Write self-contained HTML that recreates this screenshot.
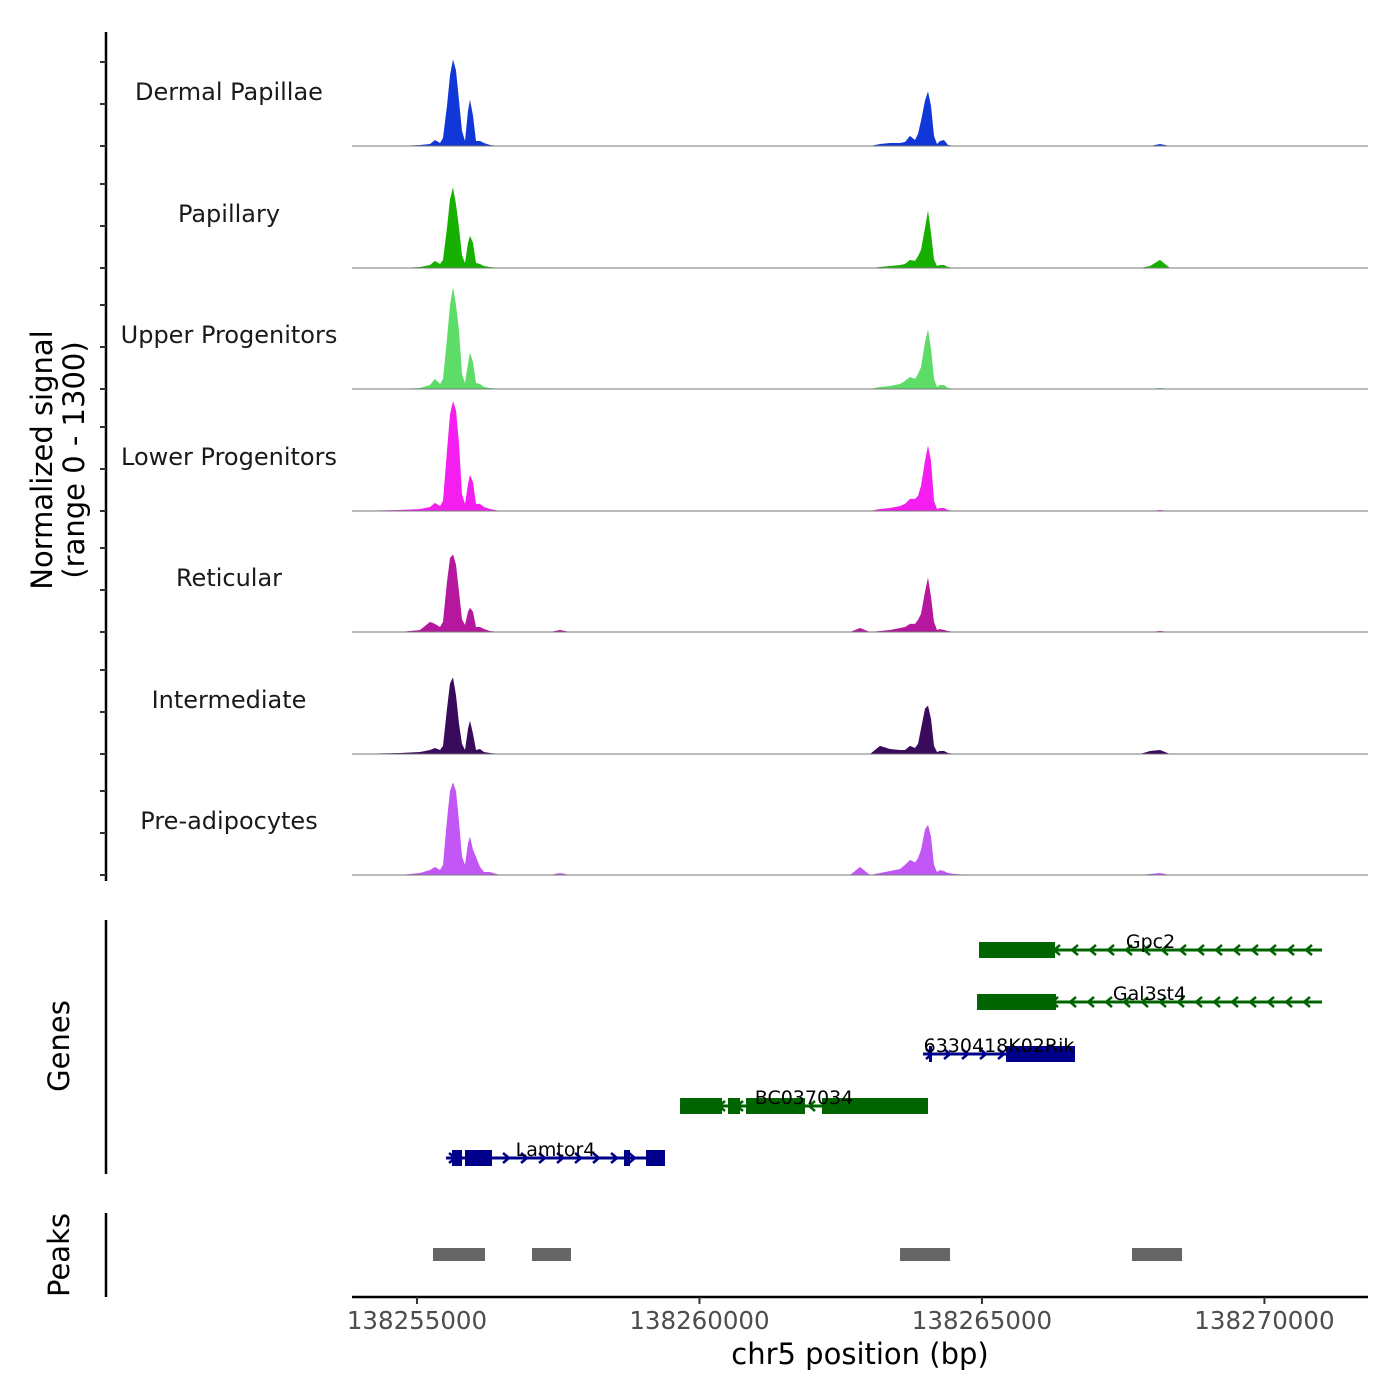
<!DOCTYPE html>
<html><head><meta charset="utf-8"><style>
html,body{margin:0;padding:0;background:#fff;}
svg{display:block;font-family:"DejaVu Sans","Liberation Sans",sans-serif;}
</style></head><body>
<svg id="chart" width="1400" height="1400" viewBox="0 0 1400 1400" xmlns="http://www.w3.org/2000/svg">
<rect width="1400" height="1400" fill="#fff"/>
<g id="tracks"></g>
<g id="genes"></g>
<g id="peaks"></g>
<g id="axes"></g>
<text transform="translate(52,460) rotate(-90)" text-anchor="middle" font-size="29" fill="#000">Normalized signal</text>
<text transform="translate(84,460) rotate(-90)" text-anchor="middle" font-size="29" fill="#000">(range 0 - 1300)</text>
<text transform="translate(69,1046) rotate(-90)" text-anchor="middle" font-size="29" fill="#000">Genes</text>
<text transform="translate(69,1255) rotate(-90)" text-anchor="middle" font-size="29" fill="#000">Peaks</text>
<text x="860" y="1364" text-anchor="middle" font-size="29" fill="#000">chr5 position (bp)</text>
</svg>
<script>
const trackNames = ["Dermal Papillae","Papillary","Upper Progenitors","Lower Progenitors","Reticular","Intermediate","Pre-adipocytes"];
const trackColors = ["#1237d8","#17b000","#5ddc68","#f51ef0","#b5179e","#3a0a5c","#c257f5"];
const positions = [138253850,138254700,138255054,138255231,138255319,138255408,138255461,138255532,138255585,138255638,138255691,138255744,138255797,138255850,138255903,138255939,138255992,138256045,138256116,138256186,138256293,138256470,138257355,138257532,138257709,138260010,138262665,138262842,138263019,138263196,138263373,138263550,138263638,138263727,138263815,138263868,138263921,138263992,138264045,138264098,138264151,138264205,138264258,138264328,138264399,138264523,138264789,138267798,138267975,138268152,138268329,138271833];
const sigDP   = [0,0,12,24,72,36,96,480,840,1030,900,540,180,60,420,552,360,60,60,36,12,0,0,0,0,0,0,0,0,24,36,36,48,120,72,144,300,540,650,480,120,24,60,72,12,0,0,0,0,24,0,0];
const sigPap  = [0,0,12,36,84,48,96,480,820,960,760,480,150,60,300,384,300,60,48,24,12,0,0,0,0,0,0,0,0,12,24,36,48,96,84,140,216,480,684,420,100,24,36,36,12,0,0,0,24,96,0,0];
const sigUP   = [0,0,12,48,120,60,120,600,1000,1212,1000,700,180,72,300,432,320,72,60,24,12,0,0,0,0,0,0,0,0,24,36,60,96,144,120,180,260,560,708,480,120,24,48,48,12,0,0,0,0,12,0,0];
const sigLP   = [0,12,24,48,96,60,120,720,1150,1308,1200,800,200,84,320,432,340,84,84,48,24,0,0,0,0,0,0,0,0,24,36,60,84,144,144,180,300,600,780,600,120,24,36,36,12,0,0,0,0,12,0,0];
const sigRet  = [0,0,24,120,96,60,120,600,880,924,800,480,150,84,240,288,240,60,60,36,12,0,0,24,0,0,0,48,0,12,24,48,60,96,96,144,216,480,648,420,120,24,36,24,12,0,0,0,0,12,0,0];
const sigInt  = [0,12,24,48,72,48,96,540,840,912,700,360,120,48,300,396,240,48,60,24,12,0,0,0,0,0,0,0,0,96,60,48,48,96,72,120,300,540,576,420,96,24,36,36,12,0,0,0,36,48,0,0];
const sigPre  = [0,0,24,60,96,60,120,660,1000,1104,1000,640,220,120,380,456,300,216,96,36,36,0,0,24,0,0,0,96,0,24,48,72,120,180,150,200,300,540,600,460,120,36,60,48,24,12,0,0,12,24,0,0];
const signals = [sigDP,sigPap,sigUP,sigLP,sigRet,sigInt,sigPre];
const xTicks = [138255000,138260000,138265000,138270000];
const yTicks = [0,500,1000];
const geneNames = ["Gpc2","Gal3st4","6330418K02Rik","BC037034","Lamtor4"];
const geneStarts = [138264948,138264913,138263957,138259656,138255514];
const geneEnds = [138271019,138271019,138266647,138264045,138259390];
const geneStrand = ["-","-","+","-","+"];
const geneExons = [
  [[138264948,138266293]],
  [[138264913,138266311]],
  [[138264063,138264116],[138265426,138266647]],
  [[138259656,138260399],[138260505,138260718],[138260824,138261868],[138262169,138264045]],
  [[138255620,138255797],[138255850,138256328],[138258664,138258771],[138259054,138259390]]
];
const peakStarts = [138255284,138257036,138263550,138267656];
const peakEnds = [138256204,138257726,138264435,138268541];

const NS="http://www.w3.org/2000/svg";
const X0=352,X1=1368,BP0=138253850,BP1=138271833;
function xs(bp){return X0+(bp-BP0)/(BP1-BP0)*(X1-X0);}
const baselines=[146,268,389,511,632,754,875];
function ys(v,b){return b - v*(84/1000);}
function mk(tag,attrs,parent){const e=document.createElementNS(NS,tag);for(const k in attrs)e.setAttribute(k,attrs[k]);parent.appendChild(e);return e;}

const tg=document.getElementById('tracks');
signals.forEach((s,i)=>{
  const b=baselines[i];
  const g=mk('g',{},tg);
  
  
  let d='M'+xs(positions[0])+','+b;
  positions.forEach((p,j)=>{d+=' L'+xs(p).toFixed(1)+','+ys(s[j],b).toFixed(1);});
  d+=' L'+xs(positions[positions.length-1])+','+b+' Z';
  const a=mk('path',{d:d,fill:trackColors[i]},g);
  
  
  const bl=mk('line',{x1:X0,x2:X1,y1:b,y2:b,stroke:'#777','stroke-width':1},g);
  
  
  const t=mk('text',{x:229,y:b-46,'text-anchor':'middle','font-size':24,fill:'#1a1a1a'},g);
  t.textContent=trackNames[i];
  
  
});

const ax=document.getElementById('axes');
let l=mk('line',{x1:106,x2:106,y1:32,y2:881,stroke:'#000','stroke-width':2.5},ax);


baselines.forEach(b=>{yTicks.forEach(v=>{
  const t=mk('line',{x1:100,x2:106,y1:ys(v,b),y2:ys(v,b),stroke:'#333','stroke-width':2},ax);
  
  
});});
l=mk('line',{x1:106,x2:106,y1:920,y2:1174,stroke:'#000','stroke-width':2.5},ax);


l=mk('line',{x1:106,x2:106,y1:1213,y2:1297,stroke:'#000','stroke-width':2.5},ax);


l=mk('line',{x1:X0,x2:X1,y1:1297,y2:1297,stroke:'#000','stroke-width':2.5},ax);


xTicks.forEach(v=>{
  const t=mk('line',{x1:xs(v),x2:xs(v),y1:1297,y2:1304,stroke:'#333','stroke-width':2},ax);
  
  
  const tx=mk('text',{x:xs(v),y:1329,'text-anchor':'middle','font-size':24.5,fill:'#4d4d4d'},ax);
  tx.textContent=v;
  
  
});

const gg=document.getElementById('genes');
const rowY=[950,1002,1054,1106,1158];
geneNames.forEach((n,i)=>{
  const y=rowY[i],c=geneStrand[i]=='+'?'#00008b':'#006400';
  const g=mk('g',{},gg);
  
  
  const x1=xs(geneStarts[i]),x2=xs(geneEnds[i]);
  mk('line',{x1:x1,x2:x2,y1:y,y2:y,stroke:c,'stroke-width':3},g);
  for(let x=x1+6;x<x2-4;x+=18){
    const d=geneStrand[i]=='+'?`M${x-3},${y-5} L${x+3},${y} L${x-3},${y+5}`:`M${x+3},${y-5} L${x-3},${y} L${x+3},${y+5}`;
    mk('path',{d:d,fill:'none',stroke:c,'stroke-width':2.5},g);
  }
  geneExons[i].forEach(e=>{
    const r=mk('rect',{x:xs(e[0]),y:y-8,width:Math.max(3,xs(e[1])-xs(e[0])),height:16,fill:c},g);
    
    
  });
  const t=mk('text',{x:(x1+x2)/2,y:y-2,'text-anchor':'middle','font-size':19,fill:'#000'},g);
  t.textContent=n;
  
  
});

const pg=document.getElementById('peaks');
peakStarts.forEach((s,i)=>{
  const r=mk('rect',{x:xs(s),y:1248,width:xs(peakEnds[i])-xs(s),height:13,fill:'#666'},pg);
  
  
});
</script>
</body></html>
